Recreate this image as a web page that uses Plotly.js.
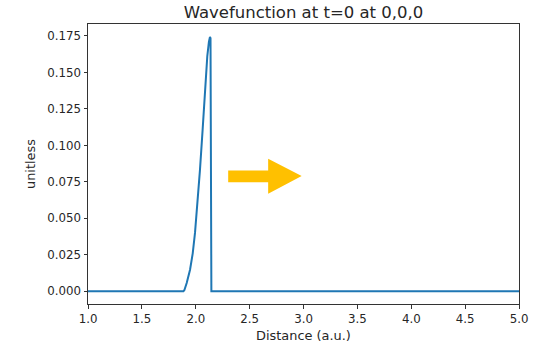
<!DOCTYPE html>
<html>
<head>
<meta charset="utf-8">
<script src="https://cdn.plot.ly/plotly-3.0.1.min.js"></script>
<style>html,body{margin:0;padding:0;background:#fff;}#chart{width:534px;height:347px;}</style>
</head>
<body>
<div id="chart"></div>
<script>
// Data
const distance = [1.0, 1.885, 1.894, 1.916, 1.947, 1.972, 1.993, 2.014, 2.039, 2.064, 2.086, 2.107, 2.122, 2.132, 2.137, 2.140, 2.142, 2.145, 5.0];
const wavefunction = [0.0, 0.0, 0.0007, 0.0057, 0.0148, 0.026, 0.040, 0.058, 0.083, 0.111, 0.140, 0.161, 0.171, 0.1744, 0.1735, 0.10, 0.0, 0.0, 0.0];
const xTicks = [1.0, 1.5, 2.0, 2.5, 3.0, 3.5, 4.0, 4.5, 5.0];
const yTicks = [0.000, 0.025, 0.050, 0.075, 0.100, 0.125, 0.150, 0.175];
// Arrow annotation outline (data coordinates)
const arrowX = [2.301, 2.672, 2.672, 2.983, 2.672, 2.672, 2.301];
const arrowY = [0.0828, 0.0828, 0.0908, 0.0791, 0.0668, 0.0748, 0.0748];

const fam = 'DejaVu Sans, sans-serif';
const tickFont = {family: fam, size: 11.8, color: '#262626'};
const labelFont = {family: fam, size: 12.9, color: '#262626'};
let path = 'M ' + arrowX.map((x, i) => x + ',' + arrowY[i]).join(' L ') + ' Z';

const trace = {
  x: distance, y: wavefunction, type: 'scatter', mode: 'lines',
  line: {color: '#1f77b4', width: 2}, hoverinfo: 'skip'
};
const axisCommon = {
  showline: true, mirror: true, linecolor: '#333', linewidth: 1,
  ticks: 'outside', ticklen: 3.5, tickwidth: 1, tickcolor: '#333',
  showgrid: false, zeroline: false, tickfont: tickFont
};
const layout = {
  width: 534, height: 347,
  margin: {l: 88, r: 15, t: 24, b: 43},
  paper_bgcolor: '#fff', plot_bgcolor: '#fff',
  showlegend: false,
  title: {text: 'Wavefunction at t=0 at 0,0,0', font: {family: fam, size: 16.5, color: '#262626'}, xref: 'paper', x: 0.5, xanchor: 'center', y: 0.965, yanchor: 'middle'},
  xaxis: Object.assign({}, axisCommon, {
    range: [1, 5], tickvals: xTicks, ticktext: xTicks.map(v => v.toFixed(1)),
    title: {text: 'Distance (a.u.)', font: labelFont, standoff: 6}
  }),
  yaxis: Object.assign({}, axisCommon, {
    range: [-0.0087, 0.1832], tickvals: yTicks, ticktext: yTicks.map(v => v.toFixed(3)),
    title: {text: 'unitless', font: labelFont, standoff: 8}
  }),
  shapes: [{type: 'path', xref: 'x', yref: 'y', path: path, fillcolor: '#FFC000', line: {width: 0}, layer: 'above'}]
};
Plotly.newPlot('chart', [trace], layout, {displayModeBar: false, staticPlot: true});
</script>
</body>
</html>
